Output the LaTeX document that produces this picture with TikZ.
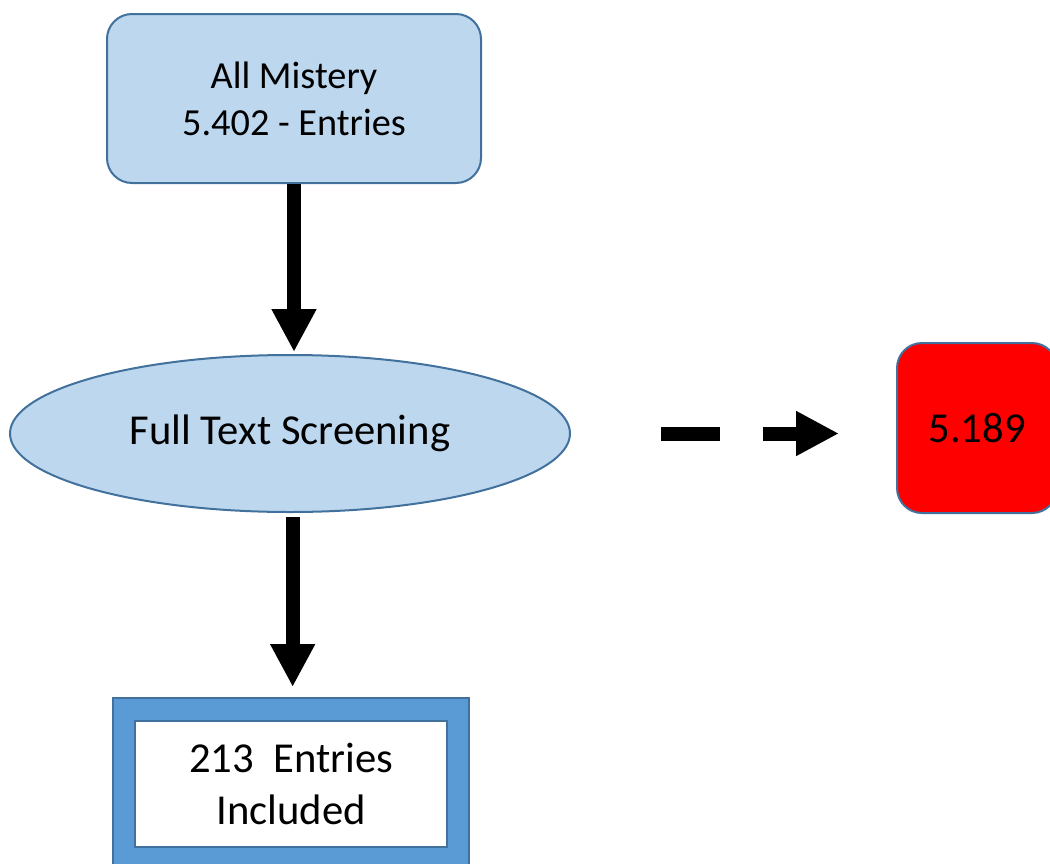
\documentclass[tikz,border=0pt]{standalone}
\usepackage{fontspec}
\setmainfont{Carlito}
\usetikzlibrary{arrows.meta,shapes.geometric}

\definecolor{paleblue}{HTML}{BDD7EE}
\definecolor{edgeblue}{HTML}{41719C}
\definecolor{midblue}{HTML}{5B9BD5}
\definecolor{alertred}{HTML}{FF0000}

\tikzset{
  roundbox/.style={draw=edgeblue, line width=1.5pt, rounded corners=18.75pt,
    inner sep=0pt, align=center},
  ovalbox/.style={ellipse, draw=edgeblue, line width=1.5pt, fill=paleblue,
    inner sep=0pt},
  framebox/.style={draw=edgeblue, line width=1.5pt, inner sep=0pt, align=center},
  bigarrow/.style={line width=10.5pt, line cap=butt,
    -{Triangle[length=32.25pt, width=31.5pt]}},
  bigtext/.style={font=\fontsize{32}{39}\selectfont},
  midtext/.style={font=\fontsize{28.7}{35.25}\selectfont}
}

\begin{document}
\begin{tikzpicture}[x=0.75pt, y=-0.75pt]
  \useasboundingbox (0,0) rectangle (1050,864);
  \clip (0,0) rectangle (1050,864);

  % source box
  \node[roundbox, fill=paleblue, midtext, minimum width=280.5pt,
        minimum height=126.75pt] (all) at (294,98.5)
        {All Mistery\\5.402 - Entries};

  % screening step
  \node[ovalbox, bigtext, minimum width=420pt, minimum height=117.75pt]
        (fts) at (290,433.5) {\raisebox{-3pt}{Full Text Screening}};

  % excluded count
  \node[roundbox, fill=alertred, bigtext, minimum width=120pt,
        minimum height=127.5pt] (excl) at (977,428) {\raisebox{-1.5pt}{5.189}};

  % included result: blue frame with white panel
  \node[framebox, fill=midblue, minimum width=267pt, minimum height=128.25pt]
        (incframe) at (291,783.5) {};
  \node[framebox, fill=white, bigtext, minimum width=234pt,
        minimum height=94.5pt] (inc) at (291,784)
        {213~~Entries~\\Included};

  % connectors
  \draw[bigarrow, shorten >=1.5pt] (all.south) -- (all.south |- fts.north);
  \draw[bigarrow, shorten <=3pt, shorten >=7.5pt]
        ([xshift=2pt]fts.south) -- ([xshift=2pt]fts.south |- incframe.north);
  \draw[bigarrow, dash pattern=on 44.25pt off 32.25pt,
        shorten <=67.5pt, shorten >=42.75pt]
        (fts.east) -- (fts.east -| excl.west);
\end{tikzpicture}
\end{document}
